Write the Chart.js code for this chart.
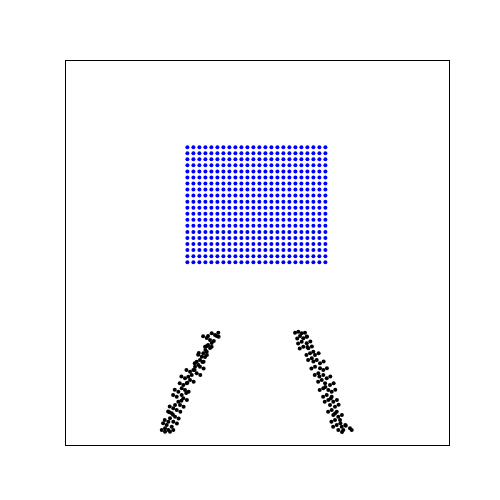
<!DOCTYPE html>
<html><head><meta charset="utf-8">
<script src="https://cdn.jsdelivr.net/npm/chart.js@4"></script>
<style>html,body{margin:0;padding:0;background:#fff;}canvas{display:block;}</style>
</head><body>
<canvas id="c" width="500" height="500"></canvas>
<script>
// Grid sample positions (blue mesh)
const gridX = [0,1,2,3,4,5,6,7,8,9,10,11,12,13,14,15,16,17,18,19,20,21,22,23];
const gridY = [0,1,2,3,4,5,6,7,8,9,10,11,12,13,14,15,16,17,18,19];
// Left black band
const leftX = [5.15,4.6,4.05,3.44,3.22,3.77,4.89,4.05,3.44,2.94,3.77,3.22,2.65,2.39,2.94,2.1,1.55,1.82,1.27,2.1,0.99,0.44,0.72,1.55,0.15,-0.4,0.44,-0.11,-0.68,-0.95,-0.4,-1.51,-0.95,-1.78,-0.68,-1.51,-2.06,-1.23,-2.35,-1.78,-2.61,-2.06,-2.9,-3.18,-2.35,-3.45,-2.61,-3.73,-4.28,-3.18,-2.35,-3.73,-2.9,4.4,3.0,2.5,1.2,0.0,-1.0,-2.4,-3.0,-0.2,1.9,
  5.2,2.62,4.04,3.17,3.25,1.79,2.7,1.22,2.7,-0.16,2.15,-1.0,1.04,-1.28,0.2,-2.11,-0.08,-2.38,-0.63,-2.95,-1.18,-3.21,-1.46,-3.78,-1.75,-4.05];
const leftY = [-11.64,-12.02,-11.74,-12.19,-12.52,-12.85,-12.19,-13.34,-13.67,-13.96,-14.17,-14.78,-15.05,-15.61,-15.66,-16.15,-16.44,-16.98,-17.26,-17.26,-17.81,-18.09,-18.63,-18.35,-18.91,-19.18,-19.46,-20.01,-20.29,-20.83,-21.11,-21.39,-21.94,-22.22,-22.48,-23.05,-23.59,-23.59,-24.14,-24.42,-24.96,-25.53,-25.79,-26.35,-26.35,-26.9,-27.18,-27.44,-27.72,-27.72,-27.72,-28.01,-28.01,-13.0,-14.5,-16.5,-17.8,-19.9,-22.9,-25.2,-24.8,-21.6,-15.0,
  -12.32,-12.22,-13.97,-13.87,-15.35,-15.31,-16.45,-16.68,-17.56,-17.79,-18.65,-18.88,-19.76,-19.99,-21.41,-21.09,-22.78,-21.92,-23.89,-23.84,-24.72,-24.66,-25.83,-26.05,-26.65,-26.6];
// Right black band
const rightX = [17.94,18.49,19.05,19.6,18.77,19.32,19.89,19.05,19.89,19.32,20.15,20.99,20.44,21.27,20.72,21.55,22.1,21.27,22.1,22.65,21.82,22.65,23.22,22.39,22.94,23.77,22.65,23.49,24.05,23.22,24.05,23.49,24.32,23.77,24.6,24.05,24.89,24.32,25.15,24.6,25.44,24.89,25.72,25.15,25.99,27.1,27.39,25.77,18.3,20.0,21.0,22.0,23.0,23.9,24.6,25.5,26.4,
  19.92,18.45,20.49,18.72,20.75,19.84,21.87,20.12,22.7,20.67,23.25,21.22,23.82,21.79,24.37,22.05,24.65,22.62,24.92,22.89,25.2,23.45,25.75,24.0,26.32,24.29];
const rightY = [-11.64,-11.48,-11.74,-11.64,-12.19,-12.57,-12.3,-13.13,-13.39,-13.96,-14.22,-14.78,-15.05,-15.33,-15.87,-16.15,-16.7,-17.26,-17.53,-17.81,-18.35,-18.63,-19.18,-19.46,-20.01,-20.29,-20.83,-21.11,-21.39,-21.94,-22.22,-22.77,-23.05,-23.59,-23.87,-24.42,-24.7,-25.25,-25.53,-26.07,-26.07,-26.9,-27.18,-27.72,-27.72,-27.44,-27.72,-28.05,-12.6,-14.0,-16.4,-18.9,-20.6,-22.5,-25.0,-26.6,-27.0,
  -12.27,-13.43,-13.09,-14.26,-13.92,-15.35,-15.03,-16.17,-16.4,-17.56,-17.51,-18.65,-18.88,-19.76,-19.99,-21.13,-21.09,-22.24,-22.75,-23.07,-23.57,-24.72,-25.23,-26.37,-26.88,-27.2];

const gridPts = [];
for (const y of gridY) for (const x of gridX) gridPts.push({x, y});
const blackPts = leftX.map((x,i)=>({x, y:leftY[i]})).concat(rightX.map((x,i)=>({x, y:rightY[i]})));

const frame = {
  id: 'frame',
  afterDraw(chart) {
    const a = chart.chartArea, ctx = chart.ctx;
    ctx.save();
    ctx.strokeStyle = '#000';
    ctx.lineWidth = 1;
    ctx.strokeRect(Math.round(a.left)+0.5, Math.round(a.top)+0.5, Math.round(a.right-a.left), Math.round(a.bottom-a.top));
    ctx.restore();
  }
};

new Chart(document.getElementById('c'), {
  type: 'scatter',
  data: {
    datasets: [
      { data: gridPts, backgroundColor: '#0000ff', borderColor: '#0000ff', pointRadius: 2, borderWidth: 0 },
      { data: blackPts, backgroundColor: '#000000', borderColor: '#000000', pointRadius: 2, borderWidth: 0 }
    ]
  },
  options: {
    responsive: false,
    animation: false,
    layout: { padding: { left: 65, right: 51, top: 60, bottom: 55 } },
    plugins: { legend: { display: false }, tooltip: { enabled: false } },
    scales: {
      x: { type: 'linear', min: -20.4, max: 43.6, display: false },
      y: { type: 'linear', min: -30.2, max: 33.4, display: false }
    }
  },
  plugins: [frame]
});
</script>
</body></html>
